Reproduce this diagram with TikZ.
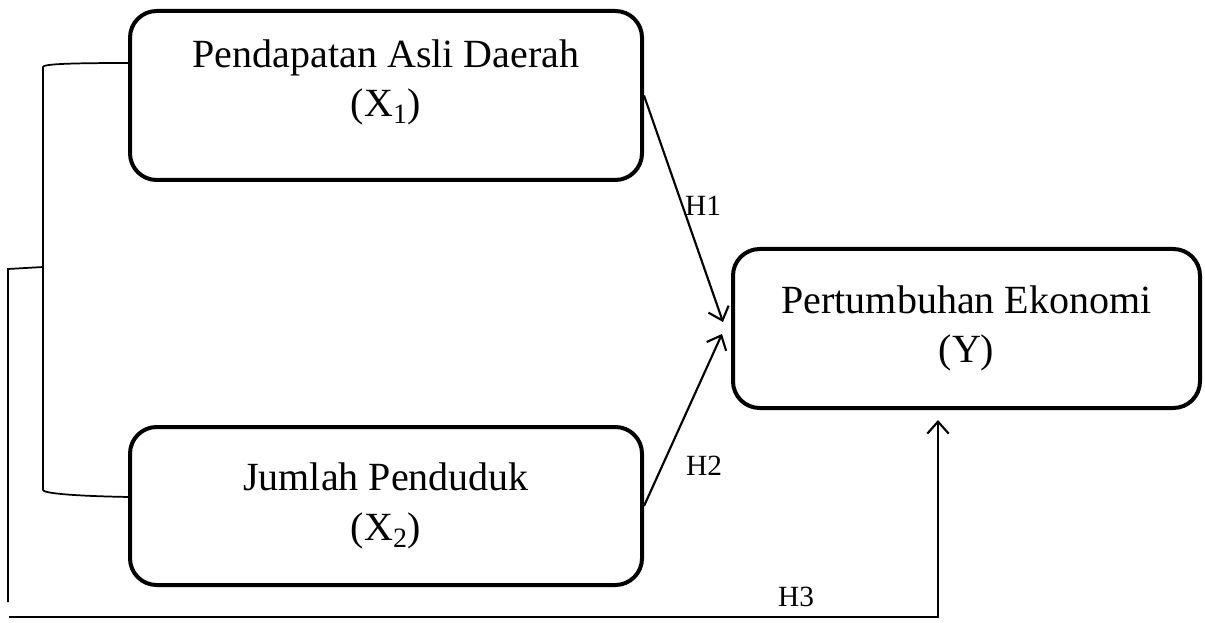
\documentclass[tikz,border=0pt]{standalone}
\usepackage{fontspec}
\setmainfont{Liberation Serif}
\usetikzlibrary{arrows.meta}
\begin{document}
\begin{tikzpicture}[x=0.75pt,y=-0.75pt,
  varbox/.style={draw, line width=3pt, rounded corners=20pt, inner sep=0pt},
  boxtext/.style={align=center, font=\fontsize{30}{37}\selectfont},
  hlabel/.style={font=\fontsize{22}{26}\selectfont, inner sep=0pt},
  path/.style={line width=1.6pt, -{Straight Barb[length=9pt,width=16pt,line width=1.6pt]}},
  brace/.style={line width=1.3pt}]
\useasboundingbox (0,0) rectangle (1205,623);

% variables
\node[varbox, minimum width=512pt*0.75, minimum height=169pt*0.75,
      label={[boxtext, yshift=10pt]center:Pendapatan Asli Daerah\\(X\textsubscript{1})}]
      (x1) at (386,95.5) {};
\node[varbox, boxtext, minimum width=512pt*0.75, minimum height=158pt*0.75]
      (x2) at (386,506) {Jumlah Penduduk\\(X\textsubscript{2})};
\node[varbox, boxtext, minimum width=467pt*0.75, minimum height=159pt*0.75]
      (y) at (966.5,328.5) {Pertumbuhan Ekonomi\\(Y)};

% arrow tips and corner points
\coordinate (t1) at (723,322);
\coordinate (t2) at (722,334);
\coordinate (t3) at (938,420);
\coordinate (h3a) at (9,617);
\coordinate (h3b) at (938,617);

% partial hypotheses
\draw[path] (x1.east) -- (t1);
\draw[path] (x2.east) -- (t2);
\node[hlabel] (lh1) at (703,206) {H1};
\node[hlabel] (lh2) at (704,466) {H2};

% simultaneous hypothesis
\coordinate (btop) at (43,67);
\coordinate (bbot) at (43,490);
\coordinate (bmid) at (43,267);
\coordinate (lft) at (8,269);
\coordinate (lbot) at (8,602);
\coordinate (c1) at (130,63);
\coordinate (c2) at (130,497);
\draw[brace] (c1) .. controls (70,63) and (43,64) .. (btop) -- (bbot)
             .. controls (43,493) and (70,496) .. (c2);
\draw[brace] (bmid) -- (lft) -- (lbot);
\draw[path] (h3a) -- (h3b) -- (t3);
\node[hlabel] (lh3) at (796,597) {H3};
\end{tikzpicture}
\end{document}
